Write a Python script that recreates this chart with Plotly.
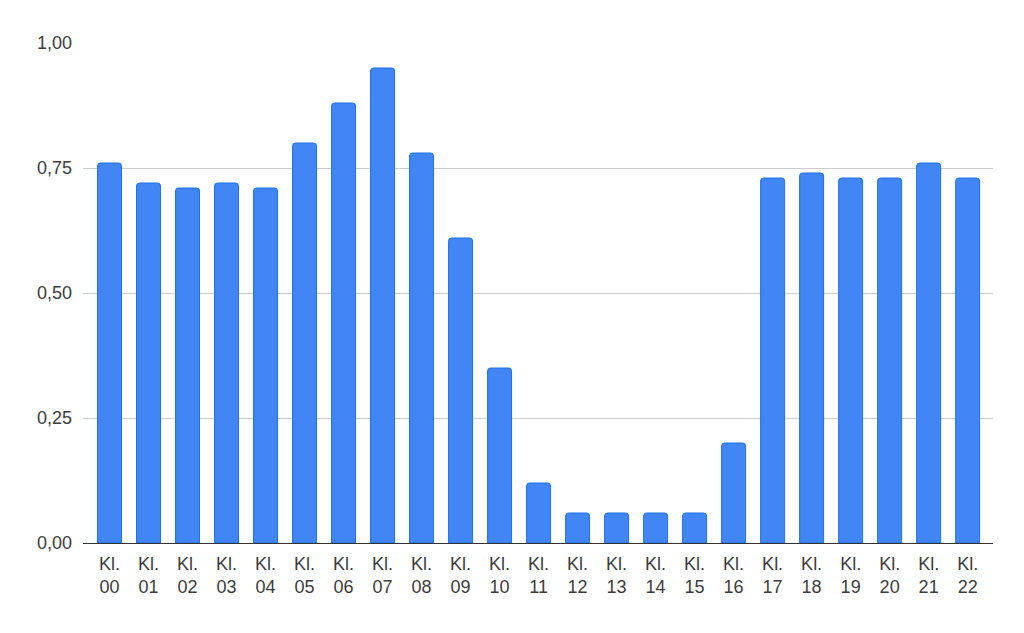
import plotly.graph_objects as go

categories = ["Kl.<br>%02d" % h for h in range(23)]
values = [0.76, 0.72, 0.71, 0.72, 0.71, 0.80, 0.88, 0.95, 0.78, 0.61, 0.35, 0.12,
          0.06, 0.06, 0.06, 0.06, 0.20, 0.73, 0.74, 0.73, 0.73, 0.76, 0.73]
y_tickvals = [0, 0.25, 0.5, 0.75, 1.0]
y_ticktext = ["0,00", "0,25", "0,50", "0,75", "1,00"]

fig = go.Figure(go.Bar(
    x=categories, y=values,
    marker=dict(color="#4285F4", line=dict(color="#1A73E8", width=1), cornerradius=3),
))
fig.update_layout(
    width=1008, height=617,
    margin=dict(l=75, r=23, t=35, b=82),
    plot_bgcolor="white", paper_bgcolor="white",
    bargap=0.385,
    showlegend=False,
    font=dict(family="Liberation Sans, Arial, sans-serif", size=18, color="#3c3c3c"),
)
fig.update_yaxes(range=[0, 1.0], tickvals=y_tickvals, ticktext=y_ticktext,
                 showgrid=True, gridcolor="#CCCCCC", gridwidth=1, zeroline=False,
                 ticks="", ticklabelstandoff=10, showline=False)
fig.update_xaxes(showline=True, linecolor="#333333", linewidth=1, ticks="",
                 tickangle=0, ticklabelstandoff=4, range=[-0.68, 22.65])
fig.write_html("out.html")
